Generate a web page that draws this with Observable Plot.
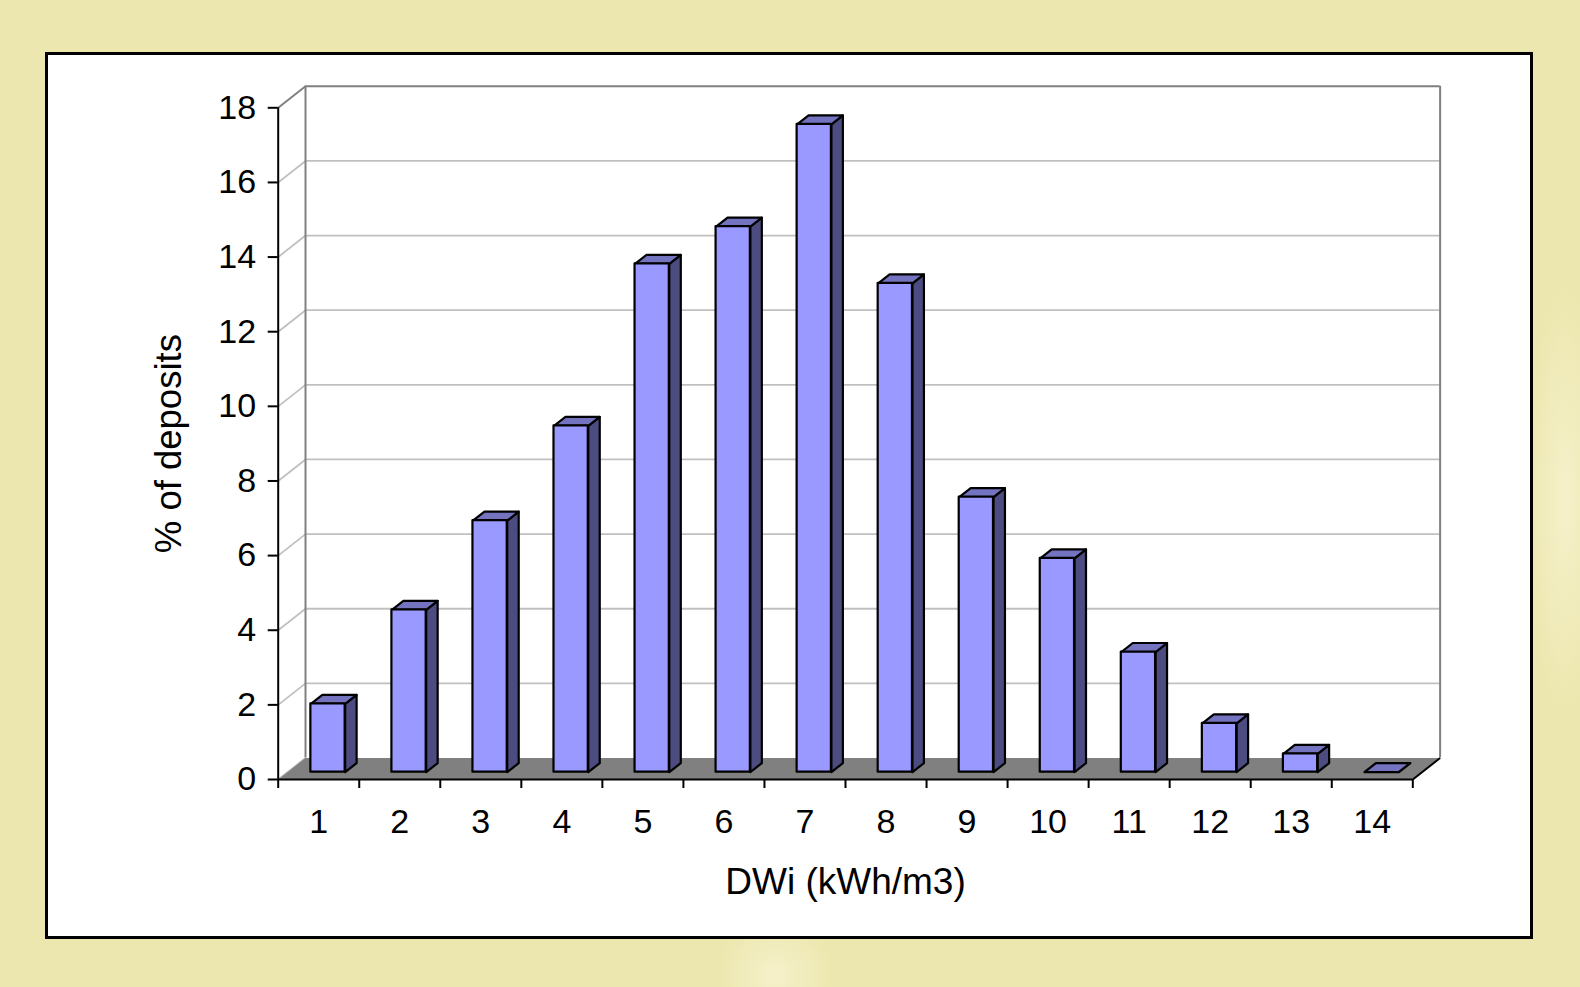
<!DOCTYPE html>
<html>
<head>
<meta charset="utf-8">
<script src="https://cdn.jsdelivr.net/npm/d3@7"></script>
<script src="https://cdn.jsdelivr.net/npm/@observablehq/plot@0.6"></script>
<style>
  html, body { margin: 0; padding: 0; width: 1580px; height: 987px; overflow: hidden; }
  body {
    font-family: "Liberation Sans", Arial, sans-serif;
    background:
      radial-gradient(ellipse 40px 220px at 1565px 500px, rgba(247,242,205,0.9), rgba(247,242,205,0) 100%),
      radial-gradient(ellipse 60px 60px at 775px 975px, rgba(247,242,205,0.9), rgba(247,242,205,0) 100%),
      #ECE7AE;
    position: relative;
  }
  #box { position: absolute; left: 45px; top: 52px; width: 1488px; height: 887px;
         border: 3px solid #000; background: #fff; box-sizing: border-box; }
  #chart { position: absolute; left: 0; top: 0; }
</style>
</head>
<body>
<div id="box"></div>
<div id="chart"></div>
<script>
// ---- data ----
const categories = [1, 2, 3, 4, 5, 6, 7, 8, 9, 10, 11, 12, 13, 14];
const deposits   = [1.83, 4.35, 6.74, 9.28, 13.62, 14.62, 17.36, 13.10, 7.37, 5.73, 3.22, 1.31, 0.49, 0];
const yTicks     = [0, 2, 4, 6, 8, 10, 12, 14, 16, 18];
const xTitle = "DWi (kWh/m3)";
const yTitle = "% of deposits";

// ---- 3D projection (depth offset expressed in data units) ----
const X0 = 0.5, X1 = categories.length + 0.5, YMAX = 18;
const DX = 0.337, DY = 0.576;       // full wall depth
const Z0 = 0.34, Z1 = 0.76;         // bar front/back depth fractions
const HW = 0.2115;                  // half bar width (category units)

const gridVals = yTicks.filter(v => v > 0 && v < YMAX);

const floor = [
  {x: X0, y: 0}, {x: X1, y: 0}, {x: X1 + DX, y: DY}, {x: X0 + DX, y: DY}
];

const fronts = [], sides = [], tops = [];
categories.forEach((c, i) => {
  const v = deposits[i];
  const xl = c - HW, xr = c + HW;
  const p = (x, z, y) => ({id: i, x: x + z * DX, y: y + z * DY});
  fronts.push({x1: xl + Z0 * DX, x2: xr + Z0 * DX, y1: Z0 * DY, y2: v + Z0 * DY});
  sides.push(p(xr, Z0, 0), p(xr, Z1, 0), p(xr, Z1, v), p(xr, Z0, v));
  tops.push(p(xl, Z0, v), p(xr, Z0, v), p(xr, Z1, v), p(xl, Z1, v));
});

const chart = Plot.plot({
  width: 1580,
  height: 987,
  marginLeft: 277.7,
  marginRight: 167.7,
  marginTop: 107.3,
  marginBottom: 208,
  style: {background: "transparent", overflow: "visible", fontFamily: "'Liberation Sans', Arial, sans-serif", color: "#000"},
  x: {type: "linear", domain: [X0, X1]},
  y: {type: "linear", domain: [0, YMAX]},
  marks: [
    // back wall gridlines
    Plot.ruleY(gridVals, {y: d => d + DY, x1: X0 + DX, x2: X1 + DX, stroke: "#C0C0C0", strokeWidth: 1.8}),
    // side-wall diagonals
    Plot.link([0, ...gridVals], {x1: X0, y1: d => d, x2: X0 + DX, y2: d => d + DY, stroke: "#C0C0C0", strokeWidth: 1.8}),
    // floor
    Plot.line(floor, {x: "x", y: "y", fill: "#808080", stroke: "none", curve: "linear-closed"}),
    // wall borders
    Plot.link([YMAX], {x1: X0, y1: d => d, x2: X0 + DX, y2: d => d + DY, stroke: "#808080", strokeWidth: 2}),
    Plot.ruleY([YMAX], {y: d => d + DY, x1: X0 + DX, x2: X1 + DX, stroke: "#808080", strokeWidth: 2}),
    Plot.ruleX([X0 + DX, X1 + DX], {x: d => d, y1: DY, y2: YMAX + DY, stroke: "#808080", strokeWidth: 2}),
    // floor right edge
    Plot.link([0], {x1: X1, y1: d => d, x2: X1 + DX, y2: d => d + DY, stroke: "#000", strokeWidth: 2}),
    // bars
    Plot.line(sides, {x: "x", y: "y", z: "id", fill: "#4C4C80", stroke: "#000", strokeWidth: 2.2, strokeLinejoin: "round", curve: "linear-closed"}),
    Plot.line(tops, {x: "x", y: "y", z: "id", fill: "#7373BF", stroke: "#000", strokeWidth: 2.2, strokeLinejoin: "round", curve: "linear-closed"}),
    Plot.rect(fronts, {x1: "x1", x2: "x2", y1: "y1", y2: "y2", fill: "#9999FF", stroke: "#000", strokeWidth: 2.2, strokeLinejoin: "round"}),
    // axes lines
    Plot.ruleX([X0], {y1: 0, y2: YMAX, stroke: "#000", strokeWidth: 2}),
    Plot.ruleY([0], {x1: X0, x2: X1, stroke: "#000", strokeWidth: 2}),
    // y axis ticks + labels
    Plot.axisY({ticks: yTicks, tickSize: 10, tickPadding: 12, fontSize: 34, strokeWidth: 2, color: "#000",
                tickFormat: d => String(d), label: null}),
    // y axis title
    Plot.axisY({ticks: [], tickSize: 0, fontSize: 36.5, color: "#000",
                label: yTitle, labelAnchor: "center", labelOffset: 123, labelArrow: "none"}),
    // x axis: boundary ticks
    Plot.axisX({ticks: d3.range(X0, X1 + 0.01, 1), tickSize: 9, strokeWidth: 2, color: "#000", tickFormat: () => "", label: null}),
    // x axis: category labels
    Plot.axisX({ticks: categories, tickSize: 0, tickPadding: 29, fontSize: 34, color: "#000",
                tickFormat: d => String(d), label: null}),
    // x axis title
    Plot.axisX({ticks: [], tickSize: 0, fontSize: 37, color: "#000",
                label: xTitle, labelAnchor: "center", labelOffset: 114, labelArrow: "none"})
  ]
});
document.getElementById("chart").appendChild(chart);
</script>
</body>
</html>
